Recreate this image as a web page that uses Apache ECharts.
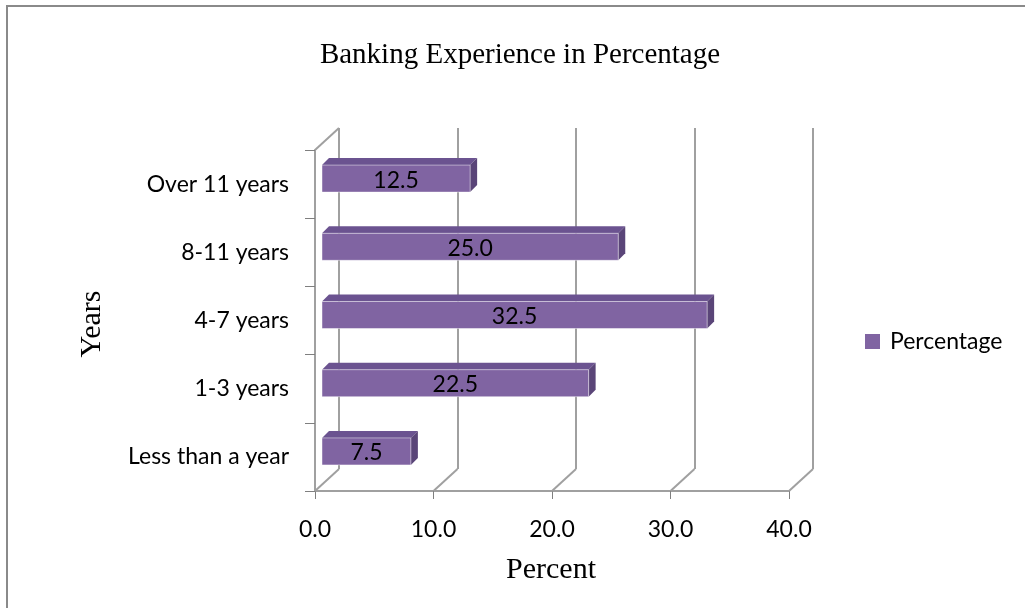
<!DOCTYPE html>
<html>
<head>
<meta charset="utf-8">
<script src="https://cdn.jsdelivr.net/npm/echarts@6/dist/echarts.min.js"></script>
<style>
  html, body { margin: 0; padding: 0; background: #fff; }
  #chart { width: 1025px; height: 608px; }
</style>
</head>
<body>
<div id="chart"></div>
<script>
// Banking experience of respondents, in percent
const categories = ['Less than a year', '1-3 years', '4-7 years', '8-11 years', 'Over 11 years'];
const percentages = [7.5, 22.5, 32.5, 25.0, 12.5];
const xTicks = [0, 10, 20, 30, 40];
const seriesName = 'Percentage';

// Pseudo-3D look: depth of the back wall and of the bar blocks
const WALL_DX = 24, WALL_DY = -22;
const BAR_SHIFT = 7;      // bars sit a little behind the front plane
const BAR_DEPTH = 7;      // extrusion of each bar
const BAR_UP = 19, BAR_DOWN = 8;

const GRID_LEFT = 315, GRID_TOP = 150, GRID_W = 474, GRID_H = 341;
const LABEL_FONT = 'Lato, "Open Sans", sans-serif';
const SERIF_FONT = '"Liberation Serif", "DejaVu Serif", serif';
const LINE_COLOR = '#a0a0a0';

const chart = echarts.init(document.getElementById('chart'));

function renderBar(params, api) {
  const idx = api.value(1);
  const val = api.value(0);
  const p0 = api.coord([0, idx]);
  const p1 = api.coord([val, idx]);
  const x0 = p0[0] + BAR_SHIFT, x1 = p1[0] + BAR_SHIFT, yc = p0[1];
  const yt = yc - BAR_UP, yb = yc + BAR_DOWN;
  return {
    type: 'group',
    children: [
      { type: 'polygon', shape: { points: [[x0, yt], [x1, yt], [x1 + BAR_DEPTH, yt - BAR_DEPTH], [x0 + BAR_DEPTH, yt - BAR_DEPTH]] },
        style: { fill: '#6b5390' } },
      { type: 'polygon', shape: { points: [[x1, yt], [x1 + BAR_DEPTH, yt - BAR_DEPTH], [x1 + BAR_DEPTH, yb - BAR_DEPTH], [x1, yb]] },
        style: { fill: '#5a4578' } },
      { type: 'rect', shape: { x: x0, y: yt, width: x1 - x0, height: yb - yt },
        style: { fill: '#8064a2', stroke: 'rgba(255,255,255,0.45)', lineWidth: 1 } },
      { type: 'text', style: { text: val.toFixed(1), x: (x0 + x1) / 2, y: yc - 4,
        align: 'center', verticalAlign: 'middle', fill: '#000', fontSize: 23, fontFamily: LABEL_FONT } }
    ]
  };
}

function renderFloor(params, api) {
  const cs = params.coordSys;
  const x = api.coord([api.value(0), 0])[0];
  const yb = cs.y + cs.height;
  const children = [
    { type: 'line', shape: { x1: x, y1: yb, x2: x + WALL_DX, y2: yb + WALL_DY },
      style: { stroke: LINE_COLOR, lineWidth: 2 } }
  ];
  if (params.dataIndex === 0) {
    children.push({ type: 'line', shape: { x1: cs.x, y1: cs.y, x2: cs.x + WALL_DX, y2: cs.y + WALL_DY },
      style: { stroke: LINE_COLOR, lineWidth: 2 } });
  }
  return { type: 'group', children };
}

chart.setOption({
  animation: false,
  backgroundColor: '#fff',
  grid: [
    { left: GRID_LEFT, top: GRID_TOP, width: GRID_W, height: GRID_H },
    { left: GRID_LEFT + WALL_DX, top: GRID_TOP + WALL_DY, width: GRID_W, height: GRID_H }
  ],
  xAxis: [
    { type: 'value', gridIndex: 0, min: xTicks[0], max: xTicks[xTicks.length - 1], interval: 10,
      axisLine: { show: true, lineStyle: { color: LINE_COLOR, width: 2 } },
      axisTick: { show: true, length: 8, lineStyle: { color: '#7f7f7f', width: 1 } },
      splitLine: { show: false },
      axisLabel: { formatter: v => v.toFixed(1), margin: 27, color: '#000', fontSize: 23, fontFamily: LABEL_FONT } },
    { type: 'value', gridIndex: 1, min: xTicks[0], max: xTicks[xTicks.length - 1], interval: 10,
      axisLine: { show: false }, axisTick: { show: false }, axisLabel: { show: false },
      splitLine: { show: true, lineStyle: { color: LINE_COLOR, width: 2 } } }
  ],
  yAxis: [
    { type: 'category', gridIndex: 0, data: categories,
      axisLine: { show: true, lineStyle: { color: LINE_COLOR, width: 2 } },
      axisTick: { show: true, length: 10, lineStyle: { color: '#7f7f7f', width: 1 } },
      axisLabel: { margin: 26, color: '#000', fontSize: 23, fontFamily: LABEL_FONT } },
    { type: 'category', gridIndex: 1, data: categories, show: false }
  ],
  legend: {
    data: [{ name: seriesName, icon: 'rect' }],
    left: 860, top: 325, itemWidth: 15, itemHeight: 15, itemGap: 10,
    textStyle: { color: '#000', fontSize: 23, fontFamily: LABEL_FONT, padding: [0, 0, 0, 5] }
  },
  graphic: [
    { type: 'rect', shape: { x: 7, y: 6, width: 1200, height: 800 }, silent: true,
      style: { fill: 'none', stroke: '#8a8a8a', lineWidth: 2 } },
    { type: 'text', x: 520, y: 55, silent: true,
      style: { text: 'Banking Experience in Percentage', align: 'center', verticalAlign: 'middle',
        fill: '#000', fontSize: 29, fontFamily: SERIF_FONT } },
    { type: 'text', x: 92, y: 324, rotation: Math.PI / 2, silent: true,
      style: { text: 'Years', align: 'center', verticalAlign: 'middle',
        fill: '#000', fontSize: 30, fontFamily: SERIF_FONT } },
    { type: 'text', x: 551, y: 570, silent: true,
      style: { text: 'Percent', align: 'center', verticalAlign: 'middle',
        fill: '#000', fontSize: 30, fontFamily: SERIF_FONT } }
  ],
  series: [
    { type: 'custom', name: 'floor', xAxisIndex: 0, yAxisIndex: 0, clip: false, silent: true,
      renderItem: renderFloor, data: xTicks.map(v => [v]), encode: { x: 0 } },
    { type: 'custom', name: seriesName, xAxisIndex: 0, yAxisIndex: 0, clip: false,
      itemStyle: { color: '#8064a2' },
      renderItem: renderBar,
      data: percentages.map((v, i) => [v, i]), encode: { x: 0, y: 1 } }
  ]
});
</script>
</body>
</html>
